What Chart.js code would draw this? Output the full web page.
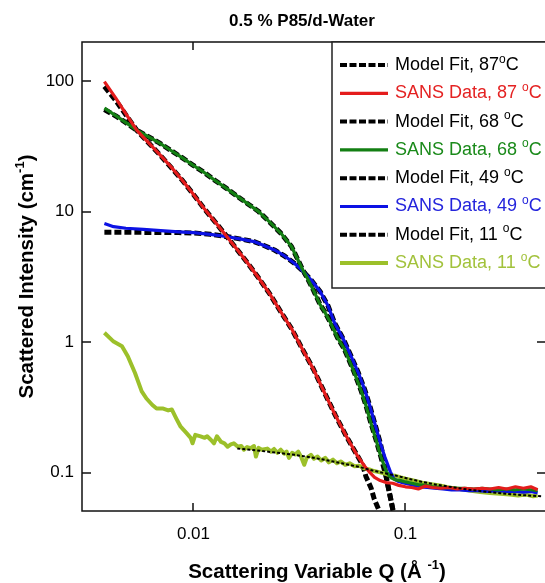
<!DOCTYPE html>
<html>
<head>
<meta charset="utf-8">
<script src="https://cdn.jsdelivr.net/npm/chart.js@4.4.1/dist/chart.umd.min.js"></script>
<style>
  html, body { margin: 0; padding: 0; background: #fff; overflow: hidden; }
  canvas { display: block; }
</style>
</head>
<body>
<canvas id="sans" width="550" height="583"></canvas>
<script>
// tick values and their labels
const xTicks = [0.01, 0.1];
const xTickLabels = ['0.01', '0.1'];
const yTicks = [0.1, 1, 10, 100];
const yTickLabels = ['0.1', '1', '10', '100'];

// 87 C
const q87 = [0.0038, 0.0043, 0.0048, 0.0054, 0.0061, 0.0069, 0.0078, 0.0088, 0.0099, 0.0112, 0.0126, 0.0142, 0.016, 0.018, 0.0203, 0.0229, 0.0258, 0.029, 0.0327, 0.0368, 0.0415, 0.0467, 0.0526, 0.0593, 0.0642, 0.068, 0.0715, 0.076, 0.081, 0.087, 0.093, 0.1, 0.107, 0.115, 0.124, 0.134, 0.146, 0.16, 0.175, 0.19, 0.21, 0.23, 0.25, 0.275, 0.3, 0.33, 0.36, 0.39, 0.42];
const i87 = [99, 74, 56, 42, 34, 27.5, 22.2, 17.6, 13.8, 10.6, 8.4, 6.6, 5.16, 4.04, 3.1, 2.34, 1.71, 1.27, 0.88, 0.62, 0.41, 0.275, 0.19, 0.135, 0.112, 0.1, 0.092, 0.087, 0.084, 0.083, 0.08, 0.078, 0.077, 0.075, 0.079, 0.077, 0.076, 0.077, 0.075, 0.076, 0.075, 0.076, 0.075, 0.077, 0.075, 0.078, 0.076, 0.078, 0.074];
const fitQ87 = [0.0038, 0.0043, 0.0048, 0.0054, 0.0061, 0.0069, 0.0078, 0.0088, 0.0099, 0.0112, 0.0126, 0.0142, 0.016, 0.018, 0.0203, 0.0229, 0.0258, 0.029, 0.0327, 0.0368, 0.0415, 0.0467, 0.0526, 0.0593, 0.0628, 0.0651, 0.0688, 0.0713, 0.0745, 0.0775];
const fitI87 = [91, 71, 55, 42, 34, 27.5, 22, 17.6, 13.8, 10.6, 8.4, 6.6, 5.16, 4.04, 3.1, 2.34, 1.71, 1.27, 0.88, 0.62, 0.41, 0.275, 0.19, 0.135, 0.115, 0.0935, 0.0765, 0.0625, 0.053, 0.045];

// 68 C
const q68 = [0.0038, 0.0043, 0.0048, 0.0054, 0.0061, 0.0069, 0.0078, 0.0088, 0.0099, 0.0112, 0.0126, 0.0142, 0.016, 0.018, 0.0203, 0.0229, 0.0258, 0.029, 0.0327, 0.0344, 0.0368, 0.0395, 0.0415, 0.0444, 0.0478, 0.0512, 0.0532, 0.057, 0.0616, 0.065, 0.0687, 0.0725, 0.0765, 0.0813, 0.085, 0.09, 0.095, 0.1, 0.107, 0.115, 0.124, 0.134, 0.146, 0.16, 0.175, 0.19, 0.21, 0.23, 0.25, 0.275, 0.3, 0.33, 0.36, 0.39, 0.42];
const i68 = [62, 54.3, 48, 42, 37.6, 33.6, 29.5, 26, 22.8, 20, 17.4, 15.2, 13.2, 11.5, 10, 8.3, 6.84, 5.4, 3.6, 3.1, 2.5, 1.95, 1.72, 1.4, 1.08, 0.9, 0.78, 0.6, 0.43, 0.33, 0.24, 0.18, 0.133, 0.102, 0.092, 0.088, 0.087, 0.085, 0.083, 0.081, 0.08, 0.078, 0.077, 0.077, 0.076, 0.076, 0.075, 0.076, 0.075, 0.074, 0.075, 0.074, 0.075, 0.074, 0.073];
const fitQ68 = [0.0038, 0.0043, 0.0048, 0.0054, 0.0061, 0.0069, 0.0078, 0.0088, 0.0099, 0.0112, 0.0126, 0.0142, 0.016, 0.018, 0.0203, 0.0229, 0.0258, 0.029, 0.0327, 0.0344, 0.0368, 0.0395, 0.0415, 0.0444, 0.0478, 0.0512, 0.0532, 0.057, 0.0616, 0.065, 0.0687, 0.0725, 0.0765, 0.081, 0.083, 0.0855, 0.0872, 0.089];
const fitI68 = [60.5, 54, 48, 42, 37.6, 33.6, 29.5, 26, 22.8, 20, 17.4, 15.2, 13.2, 11.5, 10, 8.3, 6.84, 5.4, 3.6, 3.1, 2.5, 1.95, 1.72, 1.4, 1.08, 0.9, 0.78, 0.6, 0.43, 0.33, 0.24, 0.18, 0.133, 0.094, 0.077, 0.061, 0.052, 0.045];

// 49 C
const q49 = [0.0038, 0.0042, 0.0048, 0.0058, 0.007, 0.0085, 0.01, 0.012, 0.0145, 0.0168, 0.0193, 0.0215, 0.0241, 0.027, 0.0299, 0.0328, 0.0359, 0.0395, 0.0431, 0.0463, 0.051, 0.0555, 0.06, 0.0643, 0.0677, 0.0716, 0.076, 0.0798, 0.0848, 0.088, 0.092, 0.097, 0.103, 0.11, 0.118, 0.127, 0.137, 0.15, 0.165, 0.18, 0.2, 0.22, 0.245, 0.27, 0.3, 0.33, 0.36, 0.39, 0.42];
const i49 = [8.1, 7.66, 7.45, 7.31, 7.15, 7.0, 6.89, 6.7, 6.42, 6.15, 5.89, 5.5, 5.08, 4.55, 4.02, 3.5, 2.99, 2.45, 1.9, 1.4, 1.05, 0.775, 0.58, 0.43, 0.33, 0.239, 0.17, 0.133, 0.102, 0.09, 0.086, 0.084, 0.082, 0.08, 0.078, 0.077, 0.076, 0.075, 0.074, 0.074, 0.073, 0.073, 0.072, 0.073, 0.072, 0.072, 0.071, 0.072, 0.07];
const fitQ49 = [0.0038, 0.0048, 0.0058, 0.007, 0.0085, 0.01, 0.012, 0.0145, 0.0168, 0.0193, 0.0215, 0.0241, 0.027, 0.0299, 0.0328, 0.0359, 0.0395, 0.0431, 0.0463, 0.051, 0.0555, 0.06, 0.0643, 0.0677, 0.0716, 0.076, 0.0785, 0.081, 0.083, 0.0855, 0.0872, 0.089];
const fitI49 = [6.95, 6.95, 6.93, 6.92, 6.9, 6.85, 6.7, 6.42, 6.15, 5.89, 5.5, 5.08, 4.55, 4.02, 3.5, 2.99, 2.45, 1.9, 1.4, 1.05, 0.775, 0.58, 0.43, 0.33, 0.239, 0.17, 0.133, 0.094, 0.077, 0.061, 0.052, 0.045];

// 11 C
const q11 = [0.0038, 0.0042, 0.0046, 0.0049, 0.0053, 0.0057, 0.006, 0.0064, 0.0067, 0.0072, 0.0076, 0.0079, 0.0083, 0.0087, 0.0093, 0.0097, 0.0099, 0.0102, 0.0108, 0.0113, 0.0116, 0.0121, 0.0125, 0.0129, 0.0135, 0.014, 0.0145, 0.015, 0.0155, 0.0162, 0.0168, 0.0173, 0.0179, 0.0186, 0.0193, 0.0197, 0.0203, 0.021, 0.0223, 0.0232, 0.024, 0.0249, 0.0258, 0.0268, 0.0275, 0.0282, 0.0292, 0.0302, 0.0312, 0.0322, 0.0333, 0.0342, 0.0358, 0.037, 0.0385, 0.04, 0.0418, 0.0435, 0.0455, 0.0475, 0.0495, 0.052, 0.0545, 0.0575, 0.0605, 0.064, 0.0675, 0.071, 0.075, 0.079, 0.084, 0.089, 0.095, 0.1, 0.11, 0.12, 0.13, 0.145, 0.16, 0.18, 0.2, 0.225, 0.25, 0.28, 0.31, 0.34, 0.37, 0.4, 0.42];
const i11 = [1.18, 1.01, 0.93, 0.78, 0.58, 0.42, 0.37, 0.33, 0.31, 0.31, 0.3, 0.305, 0.26, 0.225, 0.2, 0.185, 0.168, 0.195, 0.19, 0.185, 0.19, 0.178, 0.168, 0.19, 0.172, 0.168, 0.158, 0.165, 0.168, 0.158, 0.16, 0.15, 0.157, 0.154, 0.16, 0.133, 0.155, 0.15, 0.153, 0.145, 0.152, 0.142, 0.15, 0.14, 0.145, 0.13, 0.142, 0.138, 0.145, 0.132, 0.115, 0.13, 0.137, 0.128, 0.133, 0.124, 0.13, 0.12, 0.126, 0.118, 0.122, 0.115, 0.118, 0.112, 0.113, 0.108, 0.106, 0.103, 0.101, 0.099, 0.096, 0.095, 0.092, 0.09, 0.087, 0.084, 0.082, 0.08, 0.077, 0.075, 0.073, 0.071, 0.07, 0.069, 0.068, 0.067, 0.068, 0.066, 0.067];
const fitQ11 = [0.0161, 0.02, 0.025, 0.03, 0.035, 0.04, 0.05, 0.06, 0.07, 0.08, 0.09, 0.1, 0.12, 0.14, 0.17, 0.2, 0.25, 0.3, 0.35, 0.4, 0.44];
const fitI11 = [0.153, 0.148, 0.142, 0.137, 0.132, 0.127, 0.118, 0.111, 0.104, 0.099, 0.095, 0.091, 0.085, 0.081, 0.077, 0.074, 0.071, 0.069, 0.0675, 0.0665, 0.066];

const seriesLabels = ['Model Fit, 87°C', 'SANS Data, 87 °C', 'Model Fit, 68 °C', 'SANS Data, 68 °C',
  'Model Fit, 49 °C', 'SANS Data, 49 °C', 'Model Fit, 11 °C', 'SANS Data, 11 °C'];

const FONT = '"Liberation Sans", Arial, Helvetica, sans-serif';

function pts(q, v) {
  return q.map((x, i) => ({ x: x, y: v[i] }));
}

function fit(label, q, v, order) {
  return {
    label: label, data: pts(q, v), showLine: true, pointRadius: 0,
    borderColor: '#000', borderWidth: 5, borderDash: [7, 3], order: order,
    textColor: '#000', fit: true
  };
}

function sans(label, q, v, color, textColor, width) {
  return {
    label: label, data: pts(q, v), showLine: true, pointRadius: 0,
    borderColor: color, borderWidth: width, order: 0,
    textColor: textColor, fit: false
  };
}

const datasets = [
  fit(seriesLabels[0], fitQ87, fitI87, 1),
  sans(seriesLabels[1], q87, i87, '#e41c1c', '#e42222', 3.2),
  fit(seriesLabels[2], fitQ68, fitI68, 1),
  sans(seriesLabels[3], q68, i68, '#137f13', '#1a8a1a', 3.2),
  fit(seriesLabels[4], fitQ49, fitI49, 1),
  sans(seriesLabels[5], q49, i49, '#0c12e4', '#2424dc', 3.2),
  fit(seriesLabels[6], fitQ11, fitI11, -1),
  sans(seriesLabels[7], q11, i11, '#9cc02a', '#a2c23c', 4)
];
// thin dotted fit over the 11 C data
datasets[6].borderWidth = 2;
datasets[6].borderDash = [3, 2];

// draws text, with {sup} parts set small and raised
function richText(ctx, parts, x, y, size, weight, color, align) {
  const main = weight + ' ' + size + 'px ' + FONT;
  const small = weight + ' ' + Math.round(size * 0.64) + 'px ' + FONT;
  let w = 0;
  parts.forEach(p => { ctx.font = p.sup ? small : main; w += ctx.measureText(p.t).width; });
  let cx = align === 'center' ? x - w / 2 : x;
  ctx.fillStyle = color;
  ctx.textAlign = 'left';
  ctx.textBaseline = 'middle';
  parts.forEach(p => {
    ctx.font = p.sup ? small : main;
    ctx.fillText(p.t, cx, p.sup ? y - size * 0.32 : y);
    cx += ctx.measureText(p.t).width;
  });
}

// "°" is drawn as a small raised "o"
function degreeParts(s) {
  const k = s.indexOf('°');
  return [{ t: s.slice(0, k) }, { t: 'o', sup: true }, { t: s.slice(k + 1) }];
}

const decorations = {
  id: 'decorations',
  afterDraw(chart) {
    const { ctx, chartArea: a, scales: { x, y } } = chart;
    ctx.save();

    // frame and inward ticks
    ctx.strokeStyle = '#111';
    ctx.lineWidth = 1.5;
    ctx.strokeRect(a.left, a.top, a.right - a.left, a.bottom - a.top);
    ctx.beginPath();
    xTicks.forEach(v => {
      const px = Math.round(x.getPixelForValue(v));
      ctx.moveTo(px, a.bottom); ctx.lineTo(px, a.bottom - 8);
      ctx.moveTo(px, a.top); ctx.lineTo(px, a.top + 8);
    });
    yTicks.forEach(v => {
      const py = Math.round(y.getPixelForValue(v));
      ctx.moveTo(a.left, py); ctx.lineTo(a.left + 9, py);
      ctx.moveTo(a.right, py); ctx.lineTo(a.right - 9, py);
    });
    ctx.stroke();

    // legend box
    const bx = 332, by = a.top, bw = 230, bh = 246;
    ctx.fillStyle = '#fff';
    ctx.fillRect(bx, by, bw, bh);
    ctx.strokeStyle = '#222';
    ctx.lineWidth = 1.5;
    ctx.strokeRect(bx, by, bw, bh);
    chart.data.datasets.forEach((ds, i) => {
      const ry = by + 23 + i * 28.3;
      ctx.beginPath();
      ctx.strokeStyle = ds.borderColor;
      if (ds.fit) {
        ctx.lineWidth = 4;
        ctx.setLineDash([7, 2.5]);
      } else {
        ctx.lineWidth = ds.borderWidth;
        ctx.setLineDash([]);
      }
      ctx.moveTo(340, ry); ctx.lineTo(388, ry);
      ctx.stroke();
      ctx.setLineDash([]);
      richText(ctx, degreeParts(ds.label), 395, ry, 18, 'normal', ds.textColor, 'left');
    });

    // titles
    richText(ctx, [{ t: '0.5 % P85/d-Water' }], 302, 21, 17, 'bold', '#000', 'center');
    richText(ctx, [{ t: 'Scattering Variable Q (Å ' }, { t: '-1', sup: true }, { t: ')' }],
      (a.left + a.right) / 2 + 3, 572, 20.5, 'bold', '#000', 'center');
    ctx.translate(27, (a.top + a.bottom) / 2);
    ctx.rotate(-Math.PI / 2);
    richText(ctx, [{ t: 'Scattered Intensity (cm' }, { t: '-1', sup: true }, { t: ')' }],
      0, 0, 20.5, 'bold', '#000', 'center');
    ctx.restore();
  }
};

const ctx = document.getElementById('sans');

new Chart(ctx, {
  type: 'scatter',
  data: { datasets: datasets },
  options: {
    responsive: false,
    animation: false,
    layout: { padding: { top: 42, right: 4, left: 0, bottom: 0 } },
    elements: { line: { tension: 0, borderJoinStyle: 'round', borderCapStyle: 'butt' } },
    plugins: {
      legend: { display: false },
      tooltip: { enabled: false },
      title: { display: false }
    },
    scales: {
      x: {
        type: 'logarithmic',
        min: 0.00298,
        max: 0.46,
        grid: { display: false, drawTicks: false },
        border: { display: false },
        afterBuildTicks: scale => { scale.ticks = xTicks.map(v => ({ value: v })); },
        afterFit: scale => { scale.height = 72; },
        ticks: {
          autoSkip: false, maxRotation: 0, padding: 13, color: '#000',
          font: { family: FONT, size: 17 },
          callback: (v, i) => xTickLabels[i]
        }
      },
      y: {
        type: 'logarithmic',
        min: 0.0509,
        max: 199,
        grid: { display: false, drawTicks: false },
        border: { display: false },
        afterBuildTicks: scale => { scale.ticks = yTicks.map(v => ({ value: v })); },
        afterFit: scale => { scale.width = 82; },
        ticks: {
          autoSkip: false, padding: 8, color: '#000',
          font: { family: FONT, size: 17 },
          callback: (v, i) => yTickLabels[i]
        }
      }
    }
  },
  plugins: [decorations]
});
</script>
</body>
</html>
